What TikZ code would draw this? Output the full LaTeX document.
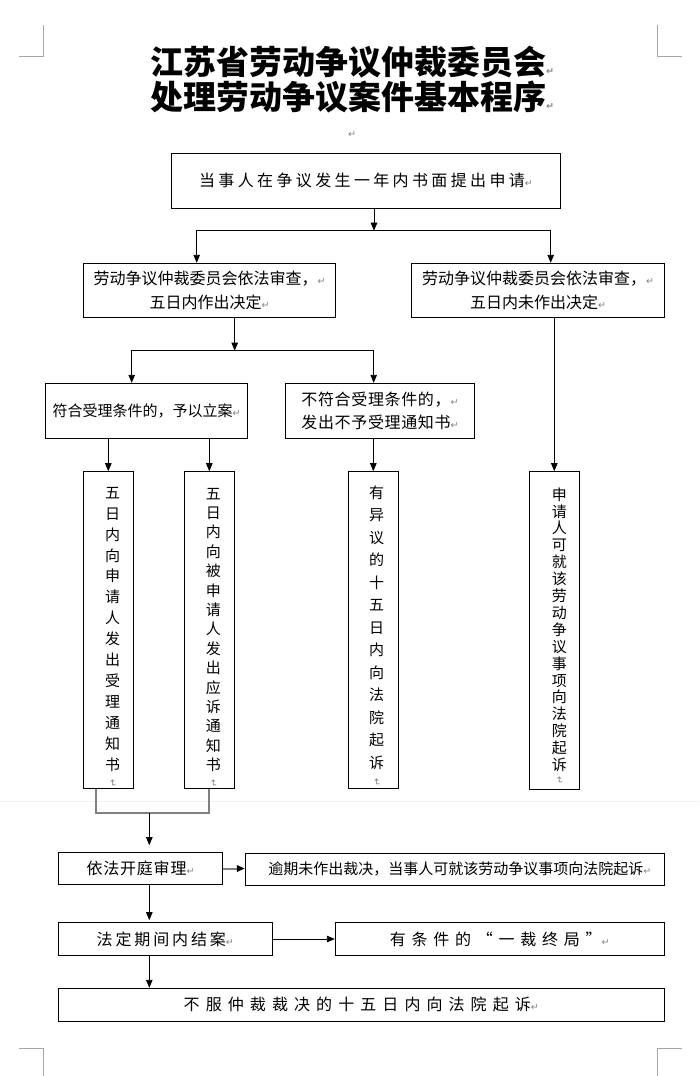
\documentclass[tikz,border=0pt]{standalone}
\usepackage{fontspec}
\setmainfont{Noto Sans CJK SC}
\newfontfamily\retfont{DejaVu Sans}
\newcommand\retmark{{\retfont\fontsize{9.5}{9.5}\selectfont\textcolor{gray}{↵}}}
\usetikzlibrary{arrows.meta}

\begin{document}
\begin{tikzpicture}[x=1pt,y=-1pt,
    box/.style={draw,line width=1pt,inner sep=0pt,align=center,font=\fontsize{16}{24.3}\selectfont},
    spaced/.style={font=\fontsize{16}{24}\selectfont\addfontfeature{LetterSpace=#1}},
    vtxt/.style={align=center,inner sep=0pt,font=\fontsize{15}{#1}\selectfont},
    title/.style={align=center,inner sep=0pt,font=\fontsize{33}{35}\selectfont\bfseries},
    arr/.style={line width=0.9pt,-{Triangle[length=8pt,width=6.5pt]}},
    joinline/.style={line width=1.8pt,gray},
    crop/.style={line width=0.8pt,gray!70}]
  \useasboundingbox (0,0) rectangle (699,1076);
  % page marks
  \draw[crop] (19,56.6) -- (43.7,56.6) -- (43.7,24.5);
  \draw[crop] (682,56.6) -- (657.6,56.6) -- (657.6,24.5);
  \draw[crop] (19,1048.3) -- (43.5,1048.3) -- (43.5,1076);
  \draw[crop] (682,1048.3) -- (657.6,1048.3) -- (657.6,1076);
  \draw[line width=0.6pt,gray!12] (0,801.7) -- (699,801.7);

  \node[title] (title) at (352,79.5) {江苏省劳动争议仲裁委员会\retmark\\处理劳动争议案件基本程序\retmark};
  \node (gap) at (352,135) {\retmark};

  % boxes
  \node[box,spaced=21,minimum width=388.7,minimum height=55] (start) at (366,180.8) {当事人在争议发生一年内书面提出申请\retmark};
  \node[box,minimum width=252.4,minimum height=54] (revA) at (209.5,290.3) {劳动争议仲裁委员会依法审查，\retmark\\五日内作出决定\retmark};
  \node[box,minimum width=252.6,minimum height=54] (revB) at (538,290.3) {劳动争议仲裁委员会依法审查，\retmark\\五日内未作出决定\retmark};
  \node[box,font=\fontsize{15}{20}\selectfont,minimum width=202,minimum height=55] (acc) at (146.7,410.8) {符合受理条件的，予以立案\retmark};
  \node[box,align=left,font=\fontsize{16}{23.3}\selectfont\addfontfeature{LetterSpace=4},minimum width=188.6,minimum height=55] (rej) at (380,410.8) {不符合受理条件的，\retmark\\发出不予受理通知书\retmark};

  \node[box,minimum width=50,minimum height=316.6] (v1) at (108.3,630) {};
  \node[box,minimum width=50,minimum height=316.6] (v2) at (209.3,630) {};
  \node[box,minimum width=50,minimum height=316.6] (v3) at (373.3,630) {};
  \node[box,minimum width=50,minimum height=317.6] (v4) at (554.3,630.5) {};
  \node[vtxt=20.9] (v1t) at ([xshift=4.4,yshift=-7.5]v1.center) {五\\日\\内\\向\\申\\请\\人\\发\\出\\受\\理\\通\\知\\书\\[-11pt]\rotatebox{-90}{\retmark}};
  \node[vtxt=19.4] (v2t) at ([xshift=4,yshift=-7.5]v2.center) {五\\日\\内\\向\\被\\申\\请\\人\\发\\出\\应\\诉\\通\\知\\书\\[-11pt]\rotatebox{-90}{\retmark}};
  \node[vtxt=22.5] (v3t) at ([xshift=3.4,yshift=-6]v3.center) {有\\异\\议\\的\\十\\五\\日\\内\\向\\法\\院\\起\\诉\\[-12pt]\rotatebox{-90}{\retmark}};
  \node[vtxt=16.9] (v4t) at ([xshift=5,yshift=-5.5]v4.center) {申\\请\\人\\可\\就\\该\\劳\\动\\争\\议\\事\\项\\向\\法\\院\\起\\诉\\[-11pt]\rotatebox{-90}{\retmark}};

  \node[box,spaced=5,minimum width=164.4,minimum height=31.6] (hear) at (140.5,868.5) {依法开庭审理\retmark};
  \node[box,font=\fontsize{15}{20}\selectfont,minimum width=419,minimum height=32] (late) at (454.8,869.3) {\hspace*{10pt}逾期未作出裁决，当事人可就该劳动争议事项向法院起诉\retmark};
  \node[box,spaced=18,minimum width=214,minimum height=32.6] (close) at (165.3,939) {法定期间内结案\retmark};
  \node[box,spaced=36,minimum width=329,minimum height=32.8] (final) at (499.8,938.9) {有条件的“一裁终局”\retmark};
  \node[box,spaced=38,minimum width=606,minimum height=33] (sue) at (361.3,1004.8) {不服仲裁裁决的十五日内向法院起诉\retmark};

  % connectors
  \coordinate (s1) at (374,230.7);
  \coordinate (sA) at (196.7,230.7);
  \coordinate (sB) at (550.7,230.7);
  \draw[arr] (start.south -| s1) -- (s1);
  \draw[arr] (s1) -- (sA) -- (sA |- revA.north);
  \draw[arr] (s1) -- (sB) -- (sB |- revB.north);
  \coordinate (s2) at (234.7,350.7);
  \coordinate (s2A) at (131.7,350.7);
  \coordinate (s2B) at (373.7,350.7);
  \draw[arr] (revA.south -| s2) -- (s2);
  \draw[arr] (s2) -- (s2A) -- (s2A |- acc.north);
  \draw[arr] (s2) -- (s2B) -- (s2B |- rej.north);
  \draw[arr] (acc.south -| v1.north) -- (v1.north);
  \draw[arr] (acc.south -| v2.north) -- (v2.north);
  \draw[arr] (rej.south -| v3.north) -- (v3.north);
  \draw[arr] (revB.south -| v4.north) -- (v4.north);

  \coordinate (j1) at (96,813.3);
  \coordinate (j2) at (149.3,813.3);
  \draw[joinline] (v1.south -| j1) -- (j1) -- (j1 -| v2.south) -- (v2.south);
  \draw[arr,shorten >=7pt] (j2) -- (j2 |- hear.north);
  \draw[arr,line width=2pt,gray,-{Triangle[length=8pt,width=6.5pt,black]}] (hear.east) -- (hear.east -| late.west);
  \draw[arr,shorten >=2pt] (j2 |- hear.south) -- (j2 |- close.north);
  \draw[arr] (close.east) -- (close.east -| final.west);
  \draw[arr] (j2 |- close.south) -- (j2 |- sue.north);
\end{tikzpicture}
\end{document}
